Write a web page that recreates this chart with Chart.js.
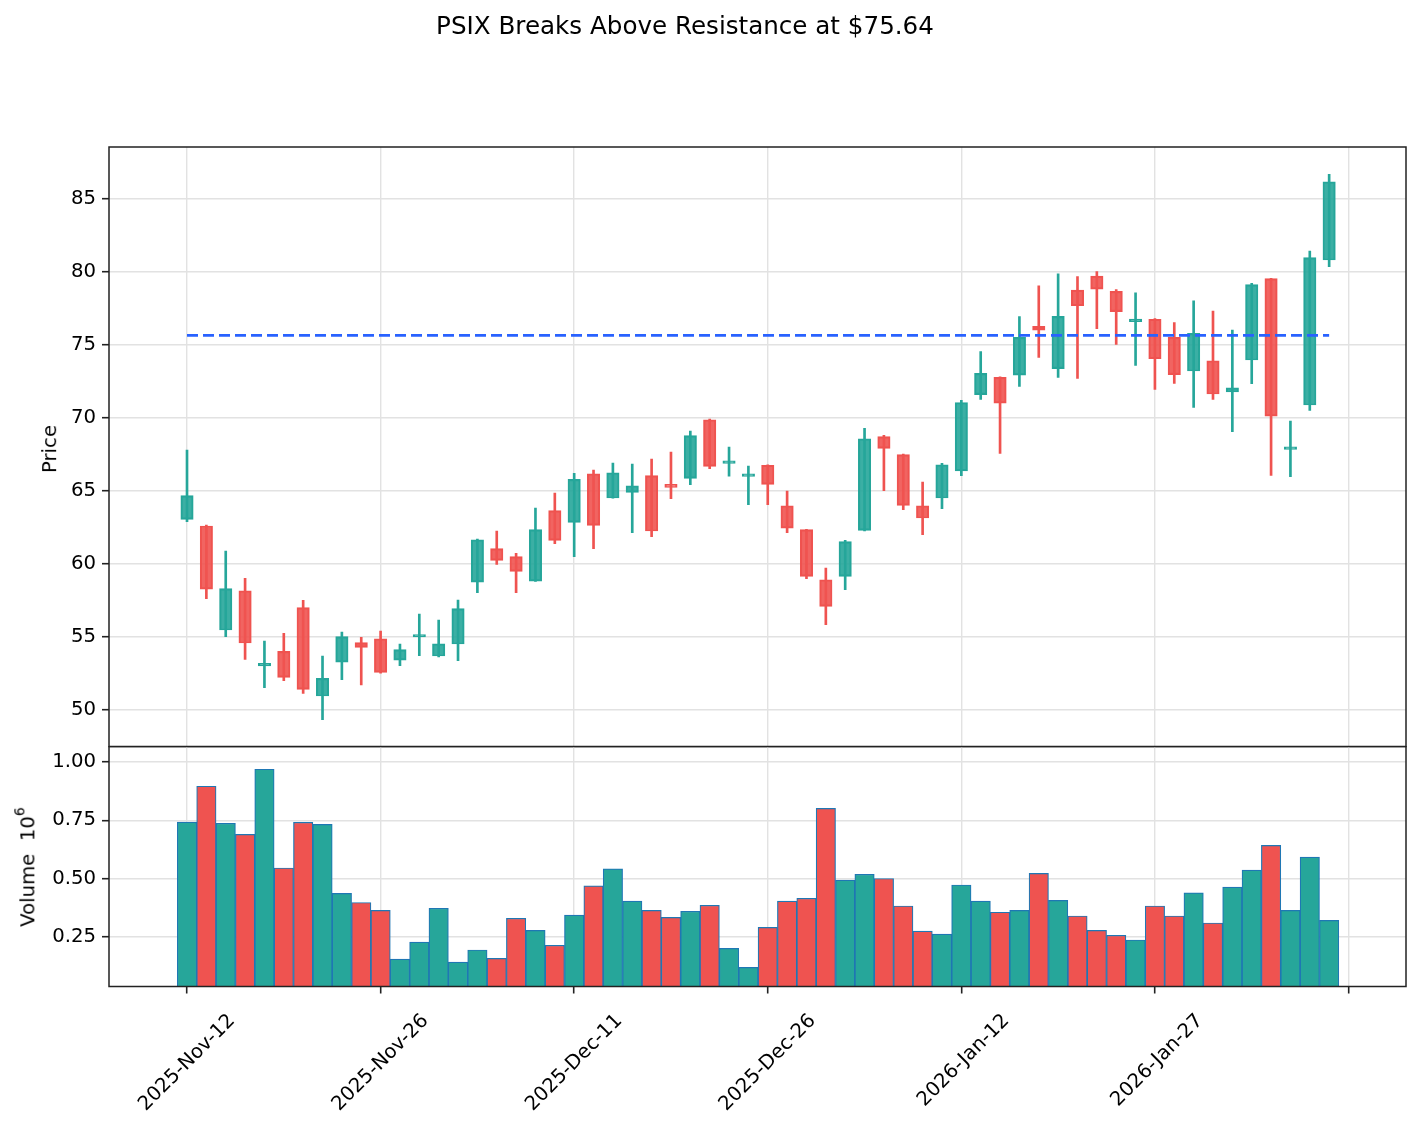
<!DOCTYPE html>
<html>
<head>
<meta charset="utf-8">
<script src="https://cdn.jsdelivr.net/npm/chart.js@4.4.1/dist/chart.umd.min.js"></script>
<style>
  html, body { margin: 0; padding: 0; background: #ffffff; }
  #wrap { position: relative; width: 1420px; height: 1126px; overflow: hidden; font-family: 'DejaVu Sans', sans-serif; color: #000; }
  #price { position: absolute; left: 0; top: 0; }
  #vol { position: absolute; left: 0; top: 746px; }
  .lbl { position: absolute; white-space: nowrap; line-height: 1; }
  #title { left: 0; width: 1370px; top: 14px; text-align: center; font-size: 24.6px; }
  #ylab { left: 50px; top: 449px; font-size: 19.7px; transform: translate(-50%, -50%) rotate(-90deg); }
  #vlab { left: 26px; top: 867px; font-size: 19.7px; transform: translate(-50%, -50%) rotate(-90deg); }
  #vlab sup { font-size: 14px; position: relative; top: -2px; }
</style>
</head>
<body>
<div id="wrap">
  <canvas id="price" width="1420" height="748"></canvas>
  <canvas id="vol" width="1420" height="380"></canvas>
  <div class="lbl" id="title">PSIX Breaks Above Resistance at $75.64</div>
  <div class="lbl" id="ylab">Price</div>
  <div class="lbl" id="vlab">Volume&nbsp; 10<sup>6</sup></div>
</div>
<script>
// ---- data ----
const dates = [
  '2025-Nov-12','2025-Nov-13','2025-Nov-14','2025-Nov-17','2025-Nov-18','2025-Nov-19','2025-Nov-20','2025-Nov-21','2025-Nov-24','2025-Nov-25',
  '2025-Nov-26','2025-Nov-28','2025-Dec-01','2025-Dec-02','2025-Dec-03','2025-Dec-04','2025-Dec-05','2025-Dec-08','2025-Dec-09','2025-Dec-10',
  '2025-Dec-11','2025-Dec-12','2025-Dec-15','2025-Dec-16','2025-Dec-17','2025-Dec-18','2025-Dec-19','2025-Dec-22','2025-Dec-23','2025-Dec-24',
  '2025-Dec-26','2025-Dec-29','2025-Dec-30','2025-Dec-31','2026-Jan-02','2026-Jan-05','2026-Jan-06','2026-Jan-07','2026-Jan-08','2026-Jan-09',
  '2026-Jan-12','2026-Jan-13','2026-Jan-14','2026-Jan-15','2026-Jan-16','2026-Jan-20','2026-Jan-21','2026-Jan-22','2026-Jan-23','2026-Jan-26',
  '2026-Jan-27','2026-Jan-28','2026-Jan-29','2026-Jan-30','2026-Feb-02','2026-Feb-03','2026-Feb-04','2026-Feb-05','2026-Feb-06','2026-Feb-09'
];
const opens = [
  63.04, 62.58, 55.46, 58.15, 53.00, 54.00, 56.99, 50.94, 53.26, 54.59,
  54.86, 53.40, 54.98, 53.68, 54.50, 58.74, 61.03, 60.48, 58.81, 63.63,
  62.83, 66.16, 64.50, 64.89, 66.03, 65.43, 65.84, 69.86, 66.87, 65.98,
  66.74, 63.97, 62.33, 58.90, 59.13, 62.28, 68.70, 67.47, 63.97, 64.50,
  66.36, 71.58, 72.76, 72.92, 76.26, 73.36, 78.74, 79.70, 78.65, 76.58,
  76.74, 75.50, 73.20, 73.90, 71.76, 73.95, 79.52, 67.83, 70.87, 80.80
];
const highs = [
  67.79, 62.65, 60.87, 59.00, 54.70, 55.23, 57.49, 53.68, 55.32, 54.95,
  55.39, 54.50, 56.55, 56.14, 57.51, 61.68, 62.24, 60.71, 63.81, 64.84,
  66.19, 66.42, 66.89, 66.83, 67.17, 67.65, 69.09, 69.90, 67.99, 66.69,
  66.78, 64.98, 62.36, 59.70, 61.60, 69.27, 68.79, 67.50, 65.59, 66.87,
  71.19, 74.52, 72.80, 76.92, 79.04, 79.86, 79.66, 80.00, 78.77, 78.56,
  76.78, 76.51, 78.01, 77.31, 76.00, 79.20, 79.55, 69.77, 81.42, 86.67
];
const lows = [
  62.88, 57.60, 55.00, 53.45, 51.51, 51.99, 51.12, 49.32, 52.05, 51.69,
  52.50, 53.01, 53.70, 53.62, 53.36, 58.01, 59.95, 58.01, 58.78, 61.37,
  60.48, 61.03, 64.48, 62.12, 61.85, 64.45, 65.41, 66.51, 66.00, 64.04,
  64.04, 62.12, 58.97, 55.82, 58.22, 62.25, 65.00, 63.70, 61.99, 63.77,
  66.03, 71.26, 67.56, 72.15, 74.13, 72.76, 72.69, 76.10, 75.02, 73.58,
  71.94, 72.35, 70.71, 71.26, 69.04, 72.33, 66.05, 65.96, 70.50, 80.34
];
const closes = [
  64.66, 58.26, 58.29, 54.57, 53.08, 52.21, 51.39, 52.15, 55.00, 54.27,
  52.56, 54.11, 55.11, 54.52, 56.92, 61.64, 60.23, 59.47, 62.33, 61.60,
  65.78, 62.63, 66.23, 65.34, 62.24, 65.23, 68.77, 66.67, 67.01, 66.12,
  65.43, 62.44, 59.13, 57.08, 61.51, 68.56, 67.90, 64.00, 63.13, 66.78,
  71.04, 73.04, 71.00, 75.50, 76.00, 76.94, 77.67, 78.81, 77.26, 76.76,
  74.04, 72.95, 75.77, 71.62, 72.05, 79.11, 70.11, 67.97, 80.96, 86.16
];
const volumes = [
  742000, 896000, 737000, 689000, 969000, 545000, 741000, 732000, 436000, 397000,
  363000, 154000, 227000, 372000, 141000, 193000, 157000, 329000, 277000, 213000,
  343000, 468000, 541000, 403000, 363000, 333000, 359000, 385000, 200000, 118000,
  290000, 403000, 415000, 801000, 493000, 518000, 500000, 382000, 274000, 261000,
  472000, 403000, 355000, 363000, 522000, 406000, 339000, 277000, 256000, 236000,
  382000, 339000, 438000, 309000, 463000, 536000, 642000, 363000, 592000, 320000
];
const resistance = 75.64;
const priceTicks = [50, 55, 60, 65, 70, 75, 80, 85];
const volumeTicks = [250000, 500000, 750000, 1000000];
const xTicks = [0, 10, 20, 30, 40, 50, 60];

// ---- styles ----
const UP = '#26a69a', DOWN = '#ef5350';
const UPF = 'rgba(38,166,154,0.9)', DOWNF = 'rgba(239,83,80,0.9)';
const GRID = '#e2e2e2', TICKC = '#222222';
const FONT = 19.7;
const isUp = i => closes[i] >= opens[i];
const X_MIN = -4.03, X_MAX = 62.97;

Chart.defaults.font.family = "'DejaVu Sans', sans-serif";
Chart.defaults.font.size = FONT;
Chart.defaults.color = '#000';

const frame = {
  id: 'frame',
  afterDraw(chart) {
    const a = chart.chartArea, c = chart.ctx;
    c.save();
    c.strokeStyle = '#222';
    c.lineWidth = 1.5;
    c.strokeRect(a.left, a.top, a.right - a.left, a.bottom - a.top);
    c.restore();
  }
};

function noPad(s) {
  s.paddingTop = 0; s.paddingBottom = 0; s.paddingLeft = 0; s.paddingRight = 0;
}

const xGrid = { offset: false, color: GRID, lineWidth: 1.4 };

new Chart(document.getElementById('price'), {
  type: 'bar',
  data: {
    datasets: [
      {
        type: 'line',
        data: [{ x: 0, y: resistance }, { x: dates.length - 1, y: resistance }],
        borderColor: '#2962ff', borderWidth: 2.8, borderDash: [11, 5],
        pointRadius: 0, fill: false, order: 0
      },
      {
        data: opens.map((o, i) => ({ x: i, y: [o, closes[i]] })),
        barThickness: 12.4, grouped: false, order: 1,
        backgroundColor: c => isUp(c.dataIndex) ? UPF : DOWNF,
        borderColor: c => isUp(c.dataIndex) ? UP : DOWN,
        borderWidth: 1.5, borderSkipped: false, minBarLength: 2.5
      },
      {
        data: lows.map((l, i) => ({ x: i, y: [l, highs[i]] })),
        barThickness: 2, grouped: false, order: 2,
        backgroundColor: c => isUp(c.dataIndex) ? UP : DOWN,
        borderWidth: 0
      }
    ]
  },
  options: {
    responsive: false, animation: false, devicePixelRatio: 1,
    layout: { padding: { top: 147, right: 14, left: 0, bottom: 1.5 } },
    plugins: { legend: { display: false }, tooltip: { enabled: false }, title: { display: false } },
    scales: {
      x: {
        type: 'linear', min: X_MIN, max: X_MAX, offset: false,
        grid: Object.assign({ drawTicks: false }, xGrid),
        border: { display: false },
        ticks: { display: false },
        afterBuildTicks: s => { s.ticks = xTicks.map(v => ({ value: v })); },
        afterFit: s => { s.height = 0; noPad(s); }
      },
      y: {
        type: 'linear', min: 47.48, max: 88.54,
        grid: { color: GRID, lineWidth: 1.4, tickLength: 7, tickColor: TICKC, tickWidth: 1.6 },
        border: { display: false },
        ticks: { padding: 6, color: '#000', font: { size: FONT } },
        afterBuildTicks: s => { s.ticks = priceTicks.map(v => ({ value: v })); },
        afterFit: s => { s.width = 109; noPad(s); }
      }
    }
  },
  plugins: [frame]
});

new Chart(document.getElementById('vol'), {
  type: 'bar',
  data: {
    datasets: [{
      data: volumes.map((v, i) => ({ x: i, y: v })),
      barThickness: 19.4, grouped: false,
      backgroundColor: c => isUp(c.dataIndex) ? UP : DOWN,
      borderColor: '#1f77b4', borderWidth: 1.2
    }]
  },
  options: {
    responsive: false, animation: false, devicePixelRatio: 1,
    layout: { padding: { top: 0.5, right: 14, left: 0, bottom: 0 } },
    plugins: { legend: { display: false }, tooltip: { enabled: false }, title: { display: false } },
    scales: {
      x: {
        type: 'linear', min: X_MIN, max: X_MAX, offset: false,
        grid: Object.assign({ tickLength: 7, tickColor: TICKC, tickWidth: 1.6 }, xGrid),
        border: { display: false },
        ticks: {
          autoSkip: false, minRotation: 45, maxRotation: 45, labelOffset: 45, padding: 16,
          color: '#000', font: { size: FONT },
          callback: v => dates[v] !== undefined ? dates[v] : ''
        },
        afterBuildTicks: s => { s.ticks = xTicks.map(v => ({ value: v })); },
        afterFit: s => { s.height = 139.5; noPad(s); }
      },
      y: {
        type: 'linear', min: 36200, max: 1066600,
        grid: { color: GRID, lineWidth: 1.4, tickLength: 7, tickColor: TICKC, tickWidth: 1.6 },
        border: { display: false },
        ticks: { padding: 6, color: '#000', font: { size: FONT }, callback: v => (v / 1e6).toFixed(2) },
        afterBuildTicks: s => { s.ticks = volumeTicks.map(v => ({ value: v })); },
        afterFit: s => { s.width = 109; noPad(s); }
      }
    }
  },
  plugins: [frame]
});
</script>
</body>
</html>
